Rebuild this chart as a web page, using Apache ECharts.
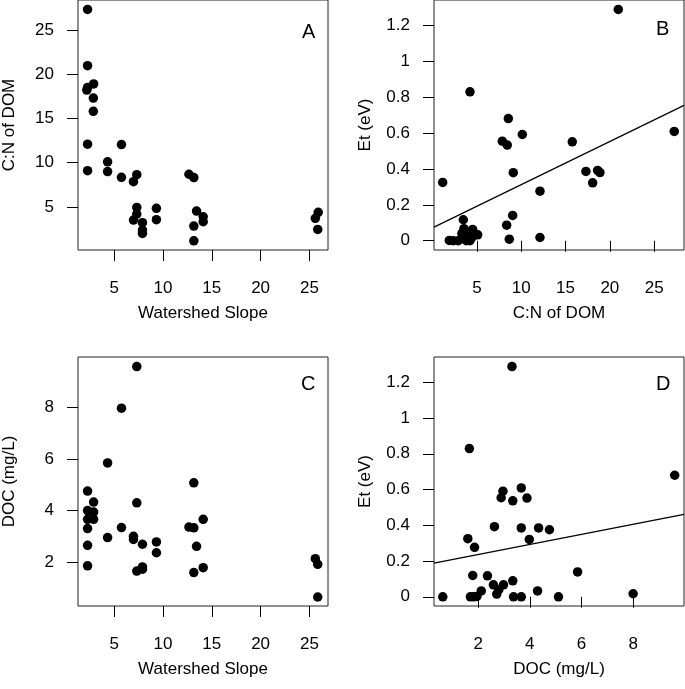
<!DOCTYPE html>
<html>
<head>
<meta charset="utf-8">
<script src="https://cdn.jsdelivr.net/npm/echarts@6/dist/echarts.min.js"></script>
<style>html,body{margin:0;padding:0;background:#fff}#c{width:685px;height:689px}</style>
</head>
<body>
<div id="c"></div>
<script>
// Panel A: Watershed slope vs C:N of DOM
const slopeA = [2.28,2.28,2.28,2.2,2.9,2.87,2.87,2.28,2.28,4.33,4.33,5.75,5.75,7.32,6.98,7.32,7.32,6.98,7.9,7.9,9.33,9.33,12.66,13.16,13.44,14.12,14.12,13.16,13.16,25.9,25.6,25.85,7.9];
const cnA    = [27.3,20.95,18.5,18.2,18.9,17.3,15.8,12.1,9.1,10.1,9.0,12.05,8.36,8.65,7.86,4.96,4.2,3.53,3.23,2.02,4.85,3.57,8.7,8.32,4.55,3.9,3.34,2.85,1.19,4.4,3.72,2.47,2.4];
// Panel B: C:N of DOM vs Et
const cnB = [20.95,4.21,8.54,10.12,7.86,8.42,15.76,27.27,9.1,17.3,18.62,18.88,18.06,1.13,12.11,9.03,8.35,8.65,12.11,3.46,1.88,2.33,2.89,3.46,3.53,4.02,4.21,4.51,4.6,5.08,3.8,3.3,4.45];
const etB = [1.289,0.83,0.681,0.592,0.555,0.533,0.551,0.609,0.379,0.386,0.392,0.38,0.323,0.325,0.276,0.141,0.087,0.009,0.018,0.117,0.002,0.0,0.0,0.017,0.067,0.045,0.0,0.063,0.03,0.033,0.0,0.04,0.02];
const fitB = [0.0722, 0.02404]; // intercept, slope
// Panel C: Watershed slope vs DOC
const slopeC = [7.32,5.75,4.33,2.28,2.9,2.28,2.9,2.28,2.9,2.28,2.28,2.28,4.33,5.75,7.32,6.98,6.98,7.9,7.32,7.9,7.9,9.33,9.33,13.16,12.66,13.16,14.12,13.44,13.16,14.12,25.6,25.85,25.85];
const docC   = [9.6,7.98,5.85,4.76,4.33,4.0,3.94,3.66,3.66,3.3,2.65,1.85,2.95,3.34,4.3,3.0,2.88,2.69,1.65,1.81,1.72,2.78,2.36,5.08,3.36,3.33,3.66,2.61,1.59,1.78,2.13,1.91,0.64];
// Panel D: DOC vs Et
const docD = [3.31,1.66,9.61,2.96,3.67,2.89,3.34,3.89,2.63,3.67,4.34,4.76,3.98,1.6,1.86,1.79,2.36,5.85,2.59,2.98,3.34,2.72,2.12,1.95,1.7,1.83,3.37,3.67,4.3,5.11,8.0,0.63,2.8];
const etD  = [1.288,0.829,0.68,0.591,0.609,0.554,0.537,0.552,0.392,0.385,0.385,0.375,0.321,0.325,0.277,0.119,0.117,0.139,0.067,0.067,0.089,0.015,0.033,0.002,0.0,0.0,0.0,0.0,0.033,0.0,0.017,0.0,0.04];
const fitD = [0.1798, 0.02817];

const slopeTicks = [5,10,15,20,25];
const cnTicks = [5,10,15,20,25];
const etTicks = [0,0.2,0.4,0.6,0.8,1,1.2];
const docTicksY = [2,4,6,8];
const docTicksX = [2,4,6,8];

const slopeRange = [1.3, 26.9];
const cnRange = [0.15, 28.37];
const etRange = [-0.0516, 1.3416];
const docRange = [0.29, 9.97];

const FONT = 'Liberation Sans, Arial, sans-serif';
const FS = 17;

function zip(a,b){return a.map((v,i)=>[v,b[i]]);}
function fitLine(f, r){return [[r[0], f[0]+f[1]*r[0]],[r[1], f[0]+f[1]*r[1]]];}

function xAx(idx, range, ticks, name){
  return {gridIndex:idx, type:'value', min:range[0], max:range[1], name:name,
    nameLocation:'middle', nameGap:55, nameTextStyle:{color:'#000', fontSize:FS, fontFamily:FONT},
    axisLine:{show:false}, splitLine:{show:false},
    axisTick:{show:true, inside:false, length:11, customValues:ticks, lineStyle:{color:'#000', width:1}},
    axisLabel:{show:true, customValues:ticks, margin:30, color:'#000', fontSize:FS, fontFamily:FONT,
      formatter:v=>String(v)}};
}
function yAx(idx, range, ticks, name){
  return {gridIndex:idx, type:'value', min:range[0], max:range[1], name:name,
    nameLocation:'middle', nameGap:60, nameRotate:90, nameTextStyle:{color:'#000', fontSize:FS, fontFamily:FONT},
    axisLine:{show:false}, splitLine:{show:false},
    axisTick:{show:true, inside:false, length:11, customValues:ticks, lineStyle:{color:'#000', width:1}},
    axisLabel:{show:true, customValues:ticks, margin:24, color:'#000', fontSize:FS, fontFamily:FONT,
      formatter:v=>String(v)}};
}
function scat(i, data){
  return {type:'scatter', xAxisIndex:i, yAxisIndex:i, data:data, symbol:'circle', symbolSize:9.5,
    itemStyle:{color:'#000', opacity:1}, silent:true, animation:false};
}
function ln(i, data){
  return {type:'line', xAxisIndex:i, yAxisIndex:i, data:data, symbol:'none', clip:true,
    lineStyle:{color:'#000', width:1.2}, silent:true, animation:false};
}

const gridStyle = {show:true, borderColor:'#222', borderWidth:1, backgroundColor:'transparent', containLabel:false};
const chart = echarts.init(document.getElementById('c'), null, {renderer:'canvas'});
chart.setOption({
  animation:false,
  backgroundColor:'#fff',
  grid:[
    Object.assign({left:77, top:0, width:251, height:250}, gridStyle),
    Object.assign({left:434, top:0, width:250, height:250}, gridStyle),
    Object.assign({left:77, top:357, width:251, height:249}, gridStyle),
    Object.assign({left:434, top:357, width:250, height:249}, gridStyle)
  ],
  xAxis:[
    xAx(0, slopeRange, slopeTicks, 'Watershed Slope'),
    xAx(1, cnRange, cnTicks, 'C:N of DOM'),
    xAx(2, slopeRange, slopeTicks, 'Watershed Slope'),
    xAx(3, docRange, docTicksX, 'DOC (mg/L)')
  ],
  yAxis:[
    yAx(0, cnRange, cnTicks, 'C:N of DOM'),
    yAx(1, etRange, etTicks, 'Et (eV)'),
    yAx(2, docRange, docTicksY, 'DOC (mg/L)'),
    yAx(3, etRange, etTicks, 'Et (eV)')
  ],
  series:[
    scat(0, zip(slopeA, cnA)),
    scat(1, zip(cnB, etB)),
    ln(1, fitLine(fitB, cnRange)),
    scat(2, zip(slopeC, docC)),
    scat(3, zip(docD, etD)),
    ln(3, fitLine(fitD, docRange))
  ],
  graphic:[
    {type:'text', left:302, top:22, style:{text:'A', fontSize:20, fontFamily:FONT, fill:'#000'}},
    {type:'text', left:656, top:19, style:{text:'B', fontSize:20, fontFamily:FONT, fill:'#000'}},
    {type:'text', left:301, top:374, style:{text:'C', fontSize:20, fontFamily:FONT, fill:'#000'}},
    {type:'text', left:656, top:374, style:{text:'D', fontSize:20, fontFamily:FONT, fill:'#000'}}
  ]
});
</script>
</body>
</html>
